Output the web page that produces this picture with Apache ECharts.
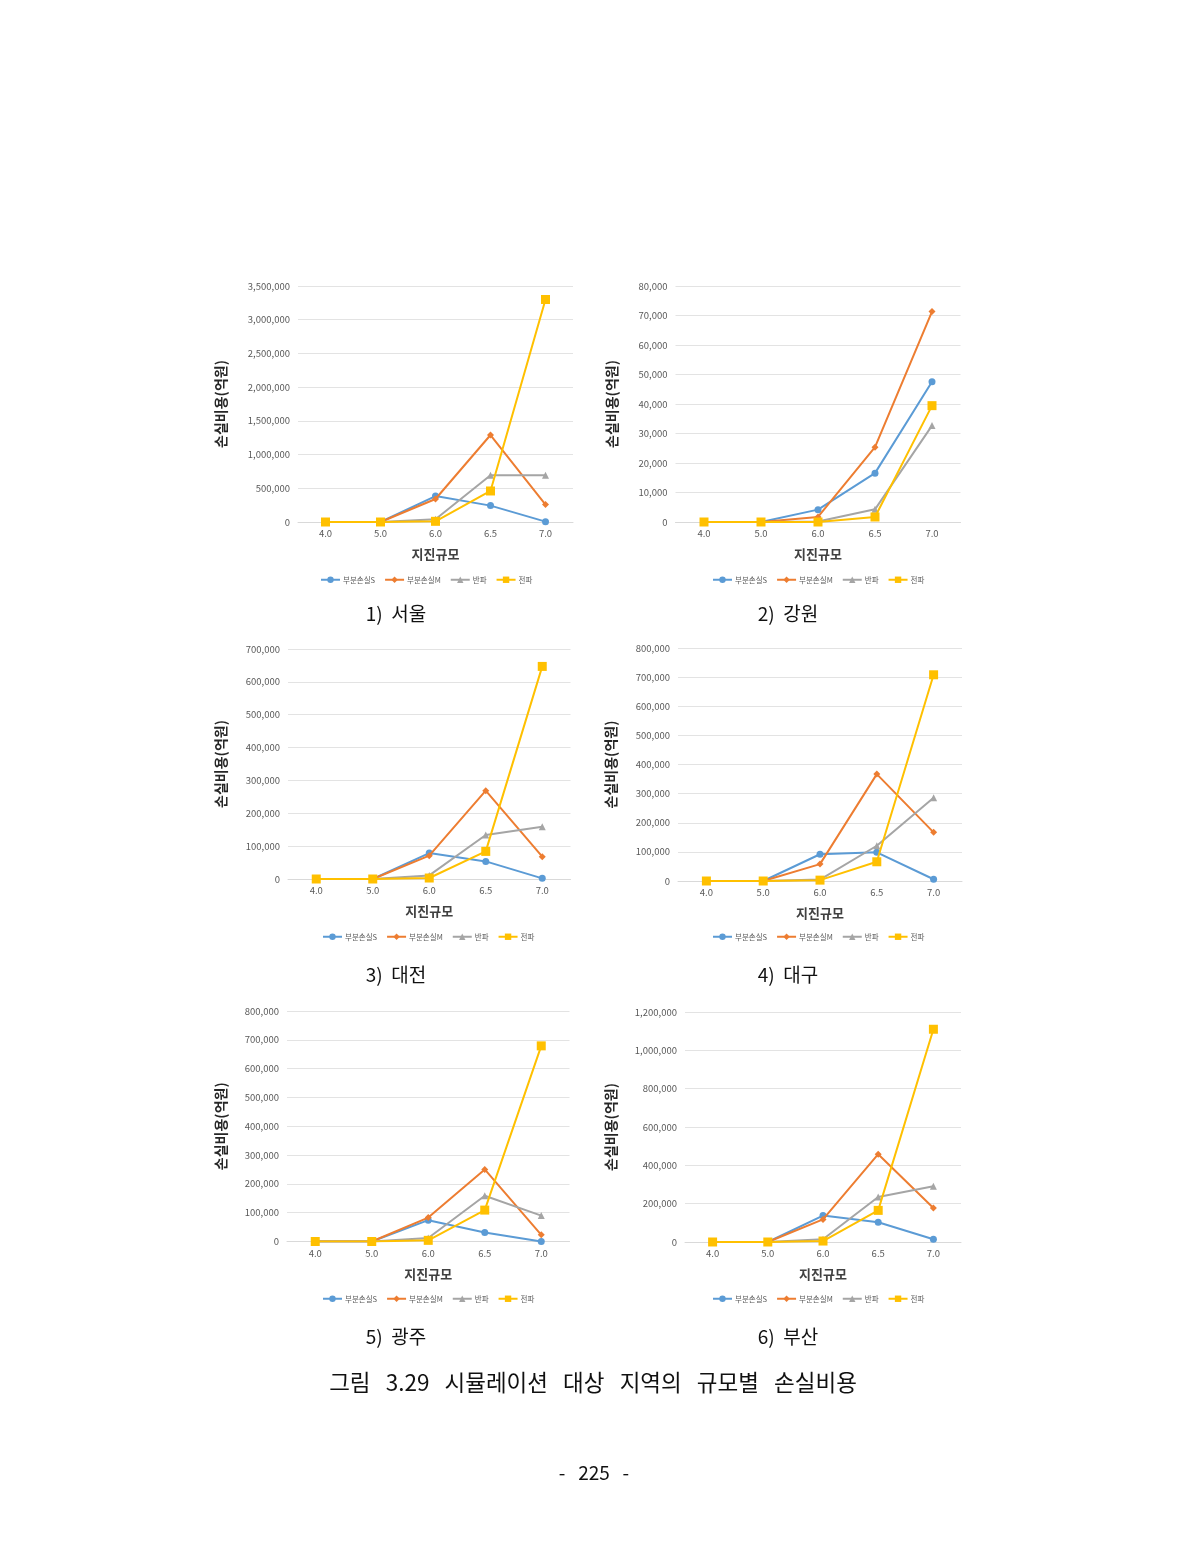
<!DOCTYPE html>
<html><head><meta charset="utf-8">
<script src="https://cdn.jsdelivr.net/npm/echarts@6/dist/echarts.min.js"></script>
<style>html,body{margin:0;padding:0;background:#fff;}#c{width:1190px;height:1549px;}</style>
</head><body><div id="c"></div>
<script>
const categories = ['4.0','5.0','6.0','6.5','7.0'];
const seriesNames = ['부분손실S','부분손실M','반파','전파'];
const regions = ['1)  서울','2)  강원','3)  대전','4)  대구','5)  광주','6)  부산'];
// values per region: [S, M, 반파, 전파]
const seoul   = [[0,0,385000,243000,5000],[0,0,341000,1290000,258000],[0,0,40000,693000,695000],[0,0,10000,460000,3300000]];
const gangwon = [[0,0,4190,16560,47550],[0,0,1700,25350,71320],[0,0,200,4290,32680],[0,0,0,1700,39440]];
const daejeon = [[0,0,79000,53600,2000],[0,0,71000,268800,68000],[0,0,11000,134000,159000],[0,0,3000,84000,647000]];
const daegu   = [[0,0,91800,98600,6000],[0,0,58000,367000,167000],[0,0,5000,121000,286000],[0,0,3000,66000,708000]];
const gwangju = [[0,0,74000,31000,0],[0,0,83000,250000,23000],[0,0,12000,159000,90000],[0,0,4000,109000,679000]];
const busan   = [[0,0,138000,103000,14000],[0,0,118000,458000,177000],[0,0,14000,235000,291000],[0,0,5000,165000,1110000]];
const allData = [seoul,gangwon,daejeon,daegu,gwangju,busan];
const yMax = [3500000,80000,700000,800000,800000,1200000];
const yInterval = [500000,10000,100000,100000,100000,200000];
const yTitle = '손실비용(억원)';
const xTitle = '지진규모';
const figTitle = '그림   3.29   시뮬레이션   대상   지역의   규모별   손실비용';
const pageNo = '-   225   -';

const grids = [
  {left:298, top:286, width:275, height:236, yGap:70, legX:320, legY:576, capX:396, capY:614},
  {left:675.5, top:286, width:285, height:236, yGap:57, legX:712, legY:576, capX:788, capY:614},
  {left:288, top:649, width:282.5, height:230, yGap:60, legX:322, legY:933, capX:396, capY:975},
  {left:678, top:648, width:284, height:233, yGap:60, legX:712, legY:933, capX:788, capY:975},
  {left:287, top:1011, width:282.5, height:230.5, yGap:59, legX:322, legY:1295, capX:396, capY:1337},
  {left:685, top:1012, width:276, height:230, yGap:67, legX:712, legY:1295, capX:788, capY:1337}
];
const colors = ['#5B9BD5','#ED7D31','#A5A5A5','#FFC000'];
const symbols = ['circle','diamond','triangle','rect'];
const symSizes = [7,7,7,9];
const font = '"Noto Sans CJK KR", "Noto Sans", sans-serif';

const option = {
  animation:false,
  color: colors,
  grid: grids.map(g=>({left:g.left, top:g.top, width:g.width, height:g.height, containLabel:false})),
  xAxis: grids.map((g,i)=>({
    type:'category', gridIndex:i, data:categories, boundaryGap:true,
    name:xTitle, nameLocation:'middle', nameGap:26,
    nameTextStyle:{fontFamily:font, fontSize:13, fontWeight:'bold', color:'#404040'},
    axisLine:{lineStyle:{color:'#d9d9d9'}}, axisTick:{show:false},
    axisLabel:{fontFamily:font, fontSize:9.5, color:'#595959', margin:7}
  })),
  yAxis: grids.map((g,i)=>({
    type:'value', gridIndex:i, min:0, max:yMax[i], interval:yInterval[i],
    name:yTitle, nameLocation:'middle', nameGap:g.yGap, nameRotate:90,
    nameTextStyle:{fontFamily:font, fontSize:14, fontWeight:'bold', color:'#262626'},
    axisLine:{show:false}, axisTick:{show:false},
    splitLine:{lineStyle:{color:'#e3e3e3', width:1}},
    axisLabel:{fontFamily:font, fontSize:9.5, color:'#595959', margin:8,
      formatter:v=>v.toLocaleString('en-US')}
  })),
  legend: grids.map((g,i)=>({
    data:seriesNames, left:g.legX, top:g.legY, itemWidth:19, itemHeight:8, itemGap:9, padding:0,
    textStyle:{fontFamily:font, fontSize:7.5, color:'#595959', padding:[0,0,0,-2]}, selectedMode:false
  })),
  series: [],
  graphic: []
};
allData.forEach((reg,i)=>{
  reg.forEach((vals,k)=>{
    option.series.push({
      type:'line', name:seriesNames[k], xAxisIndex:i, yAxisIndex:i, data:vals,
      symbol:symbols[k], symbolSize:symSizes[k], showSymbol:true,
      lineStyle:{color:colors[k], width:2}, itemStyle:{color:colors[k]}, z:2+k
    });
  });
  option.graphic.push({type:'text', x:grids[i].capX, y:grids[i].capY,
    style:{text:regions[i], font:'19px '+font, fill:'#111', align:'center', verticalAlign:'middle'}});
});
option.graphic.push({type:'text', x:593, y:1382,
  style:{text:figTitle, font:'22.5px '+font, fill:'#111', align:'center', verticalAlign:'middle'}});
option.graphic.push({type:'text', x:594, y:1473,
  style:{text:pageNo, font:'19px '+font, fill:'#111', align:'center', verticalAlign:'middle'}});

const chart = echarts.init(document.getElementById('c'), null, {renderer:'canvas'});
chart.setOption(option);
</script></body></html>
